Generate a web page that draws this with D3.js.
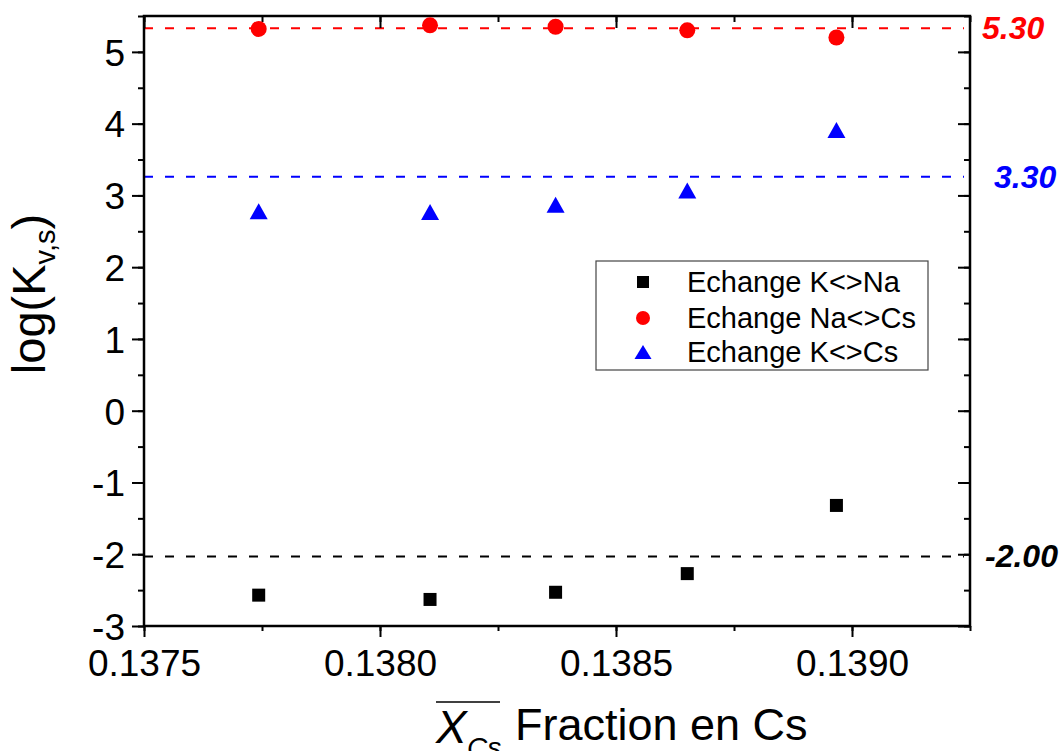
<!DOCTYPE html>
<html><head><meta charset="utf-8">
<script src="https://cdn.jsdelivr.net/npm/d3@7"></script>
<style>
body{margin:0;background:#fff;}
svg{display:block;}
text{font-family:Arial,"Liberation Sans",sans-serif;}
</style></head>
<body><svg id="c" width="1062" height="751"></svg>
<script>
const xCs = [0.137743, 0.138106, 0.138372, 0.138651, 0.138967];
const kNa = [-2.57, -2.63, -2.53, -2.27, -1.32];
const naCs = [5.32, 5.37, 5.35, 5.30, 5.20];
const kCs = [2.78, 2.77, 2.87, 3.07, 3.91];
const seriesNames = ["Echange K<>Na", "Echange Na<>Cs", "Echange K<>Cs"];
const seriesColors = ["#000000", "#ff0000", "#0000ff"];
const refValues = [-2.03, 5.33, 3.26];
const refLabels = ["-2.00", "5.30", "3.30"];
const xTicks = [0.1375, 0.1380, 0.1385, 0.1390];
const yTicks = [-3, -2, -1, 0, 1, 2, 3, 4, 5];

const L = 144, R = 970, T = 16, B = 626;
const svg = d3.select("#c");
const x = d3.scaleLinear().domain([0.1375, 0.13925]).range([L, R]);
const y = d3.scaleLinear().domain([-3, 5.5]).range([B, T]);

const xMinor = d3.range(0.1375, 0.13926, 0.00025);
const yMinor = d3.range(-3, 5.51, 0.5);

// reference dashed lines
svg.selectAll("line.ref").data(refValues).join("line")
  .attr("x1", L).attr("x2", R - 6)
  .attr("y1", d => y(d)).attr("y2", d => y(d))
  .attr("stroke", (d, i) => seriesColors[i]).attr("stroke-width", 2)
  .attr("stroke-dasharray", "9,12");

svg.selectAll("text.ref").data(refLabels).join("text")
  .attr("x", (d, i) => i === 0 ? 985 : (i === 1 ? 982 : 994))
  .attr("y", (d, i) => y(refValues[i]) + 11)
  .attr("fill", (d, i) => seriesColors[i])
  .attr("font-size", 32).attr("font-weight", "bold").attr("font-style", "italic")
  .text(d => d);

// axes
const fmtY = d => String(d);
const axB = svg.append("g").attr("transform", `translate(0,${B})`);
axB.call(d3.axisBottom(x).tickValues(xMinor).tickSize(5).tickFormat(""));
axB.append("g").call(d3.axisBottom(x).tickValues(xTicks).tickSize(11).tickFormat(d3.format(".4f")));
const axT = svg.append("g").attr("transform", `translate(0,${T})`);
axT.call(d3.axisBottom(x).tickValues(xMinor).tickSize(6).tickFormat(""));
axT.append("g").call(d3.axisBottom(x).tickValues(xTicks).tickSize(12).tickFormat(""));
const axL = svg.append("g").attr("transform", `translate(${L},0)`);
axL.call(d3.axisLeft(y).tickValues(yMinor).tickSize(6).tickFormat(""));
axL.append("g").call(d3.axisLeft(y).tickValues(yTicks).tickSize(12).tickFormat(fmtY));
const axR = svg.append("g").attr("transform", `translate(${R},0)`);
axR.call(d3.axisLeft(y).tickValues(yMinor).tickSize(6).tickFormat(""));
axR.append("g").call(d3.axisLeft(y).tickValues(yTicks).tickSize(12).tickFormat(""));

svg.selectAll(".domain").attr("stroke", "none");
svg.selectAll(".tick line").attr("stroke", "#000").attr("stroke-width", 2);
axB.selectAll(".tick text").attr("font-size", 37).attr("font-family", "Arial,'Liberation Sans',sans-serif").attr("fill", "#000").attr("dy", "1.05em").attr("y", 11);
axL.selectAll(".tick text").attr("font-size", 37).attr("font-family", "Arial,'Liberation Sans',sans-serif").attr("fill", "#000").attr("x", -19).attr("dy", "0.36em");

svg.append("rect").attr("x", L).attr("y", T).attr("width", R - L).attr("height", B - T)
  .attr("fill", "none").attr("stroke", "#000").attr("stroke-width", 2.5);

// markers
const pts = (vals) => xCs.map((v, i) => ({x: v, y: vals[i]}));
const sq = 13;
svg.append("g").selectAll("rect").data(pts(kNa)).join("rect")
  .attr("x", d => x(d.x) - sq / 2).attr("y", d => y(d.y) - sq / 2)
  .attr("width", sq).attr("height", sq).attr("fill", seriesColors[0]);
svg.append("g").selectAll("circle").data(pts(naCs)).join("circle")
  .attr("cx", d => x(d.x)).attr("cy", d => y(d.y)).attr("r", 8).attr("fill", seriesColors[1]);
const tri = (cx, cy, w, h) => `M${cx},${cy - h / 2}L${cx + w / 2},${cy + h / 2}L${cx - w / 2},${cy + h / 2}Z`;
svg.append("g").selectAll("path").data(pts(kCs)).join("path")
  .attr("d", d => tri(x(d.x), y(d.y), 18, 16)).attr("fill", seriesColors[2]);

// legend
const lg = svg.append("g");
lg.append("rect").attr("x", 596).attr("y", 261).attr("width", 332).attr("height", 109)
  .attr("fill", "#fff").attr("stroke", "#444").attr("stroke-width", 1.2);
const rowsY = [282, 318, 352];
lg.append("rect").attr("x", 643 - 6).attr("y", rowsY[0] - 6).attr("width", 12).attr("height", 12).attr("fill", seriesColors[0]);
lg.append("circle").attr("cx", 643).attr("cy", rowsY[1]).attr("r", 7).attr("fill", seriesColors[1]);
lg.append("path").attr("d", tri(643, rowsY[2], 17, 14)).attr("fill", seriesColors[2]);
lg.selectAll("text").data(seriesNames).join("text")
  .attr("x", 687).attr("y", (d, i) => rowsY[i]).attr("dy", "0.36em")
  .attr("font-size", 29).attr("fill", "#000").text(d => d);

// y title
const yt = svg.append("text").attr("transform", "translate(45,294) rotate(-90)")
  .attr("text-anchor", "middle").attr("font-size", 47).attr("fill", "#000");
yt.append("tspan").text("log(K");
yt.append("tspan").attr("font-size", 29).attr("dy", 10).text("v,s");
yt.append("tspan").attr("dy", -10).text(")");

// x title
const xt = svg.append("g");
xt.append("text").attr("x", 436).attr("y", 743).attr("font-family", "'Liberation Serif','Times New Roman',serif")
  .attr("font-style", "italic").attr("font-size", 46).attr("fill", "#000").text("X");
xt.append("text").attr("x", 467).attr("y", 757).attr("font-family", "'Liberation Serif','Times New Roman',serif")
  .attr("font-style", "italic").attr("font-size", 28).attr("fill", "#000").text("Cs");
xt.append("line").attr("x1", 436).attr("x2", 500).attr("y1", 702).attr("y2", 702).attr("stroke", "#000").attr("stroke-width", 1.5);
xt.append("text").attr("x", 515).attr("y", 740).attr("font-size", 45).attr("fill", "#000").text("Fraction en Cs");
</script></body></html>
